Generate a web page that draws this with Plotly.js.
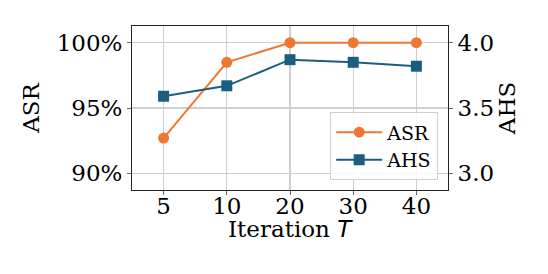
<!DOCTYPE html>
<html>
<head>
<meta charset="utf-8">
<script src="https://cdn.plot.ly/plotly-3.0.1.min.js"></script>
<style>html,body{margin:0;padding:0;background:#fff;}#chart{width:548px;height:274px;}</style>
</head>
<body>
<div id="chart"></div>
<script>
var iterations = ['5', '10', '20', '30', '40'];
var asrValues = [92.7, 98.5, 100, 100, 100];
var ahsValues = [3.59, 3.67, 3.87, 3.85, 3.82];
var asrTicks = [90, 95, 100];
var ahsTicks = [3.0, 3.5, 4.0];

var orange = '#ee7733';
var blue = '#1b5e80';
var serif = 'DejaVu Serif';

function serifText(s) { return '<span style="font-family:DejaVu Serif">' + s + '</span>'; }

var traces = [
  {
    x: iterations, y: asrValues, name: serifText('ASR'), type: 'scatter', mode: 'lines+markers',
    line: {color: orange, width: 2}, marker: {symbol: 'circle', size: 11, color: orange},
    yaxis: 'y'
  },
  {
    x: iterations, y: ahsValues, name: serifText('AHS'), type: 'scatter', mode: 'lines+markers',
    line: {color: blue, width: 2}, marker: {symbol: 'square', size: 11, color: blue},
    yaxis: 'y2'
  }
];

var layout = {
  width: 548, height: 274,
  margin: {l: 132, r: 100, t: 26, b: 84, pad: 0},
  paper_bgcolor: '#ffffff', plot_bgcolor: '#ffffff',
  font: {family: serif, size: 23, color: '#000'},
  showlegend: true,
  legend: {
    x: 0.969, y: 0.059, xanchor: 'right', yanchor: 'bottom',
    bgcolor: 'rgba(255,255,255,0.85)', bordercolor: '#d0d0d0', borderwidth: 1,
    font: {family: serif, size: 19, color: '#000'}, itemwidth: 46, tracegroupgap: 0
  },
  xaxis: {
    type: 'category', range: [-0.5, 4.5], categoryorder: 'array', categoryarray: iterations,
    showgrid: true, gridcolor: '#cfcfcf', gridwidth: 1.3,
    showline: true, linecolor: '#222', linewidth: 1, mirror: true,
    ticks: 'outside', ticklen: 4, tickcolor: '#666', ticklabelstandoff: -9,
    tickfont: {family: serif, size: 23},
    zeroline: false, fixedrange: true
  },
  yaxis: {
    range: [88.72, 101.28], tickvals: asrTicks, ticktext: asrTicks.map(function(v){return v + '%';}),
    showgrid: true, gridcolor: '#cfcfcf', gridwidth: 1.3,
    showline: true, linecolor: '#222', linewidth: 1, mirror: true,
    ticks: 'outside', ticklen: 4, tickcolor: '#666',
    tickfont: {family: serif, size: 23},
    title: {text: 'ASR', font: {family: serif, size: 23}, standoff: 10},
    zeroline: false, fixedrange: true
  },
  yaxis2: {
    overlaying: 'y', side: 'right',
    range: [2.872, 4.128], tickvals: ahsTicks, ticktext: ahsTicks.map(function(v){return v.toFixed(1);}),
    showgrid: false, showline: true, linecolor: '#222', linewidth: 1,
    ticks: 'outside', ticklen: 4, tickcolor: '#666',
    tickfont: {family: serif, size: 23},
    title: {text: 'AHS', font: {family: serif, size: 23}, standoff: 2},
    zeroline: false, fixedrange: true
  },
  annotations: [{
    text: 'Iteration <span style="font-family:DejaVu Sans"><i>T</i></span>',
    xref: 'paper', yref: 'paper', x: 0.5, y: -0.24, xanchor: 'center', yanchor: 'middle',
    showarrow: false, font: {family: serif, size: 23, color: '#000'}
  }]
};

Plotly.newPlot('chart', traces, layout, {displayModeBar: false, staticPlot: true});
</script>
</body>
</html>
